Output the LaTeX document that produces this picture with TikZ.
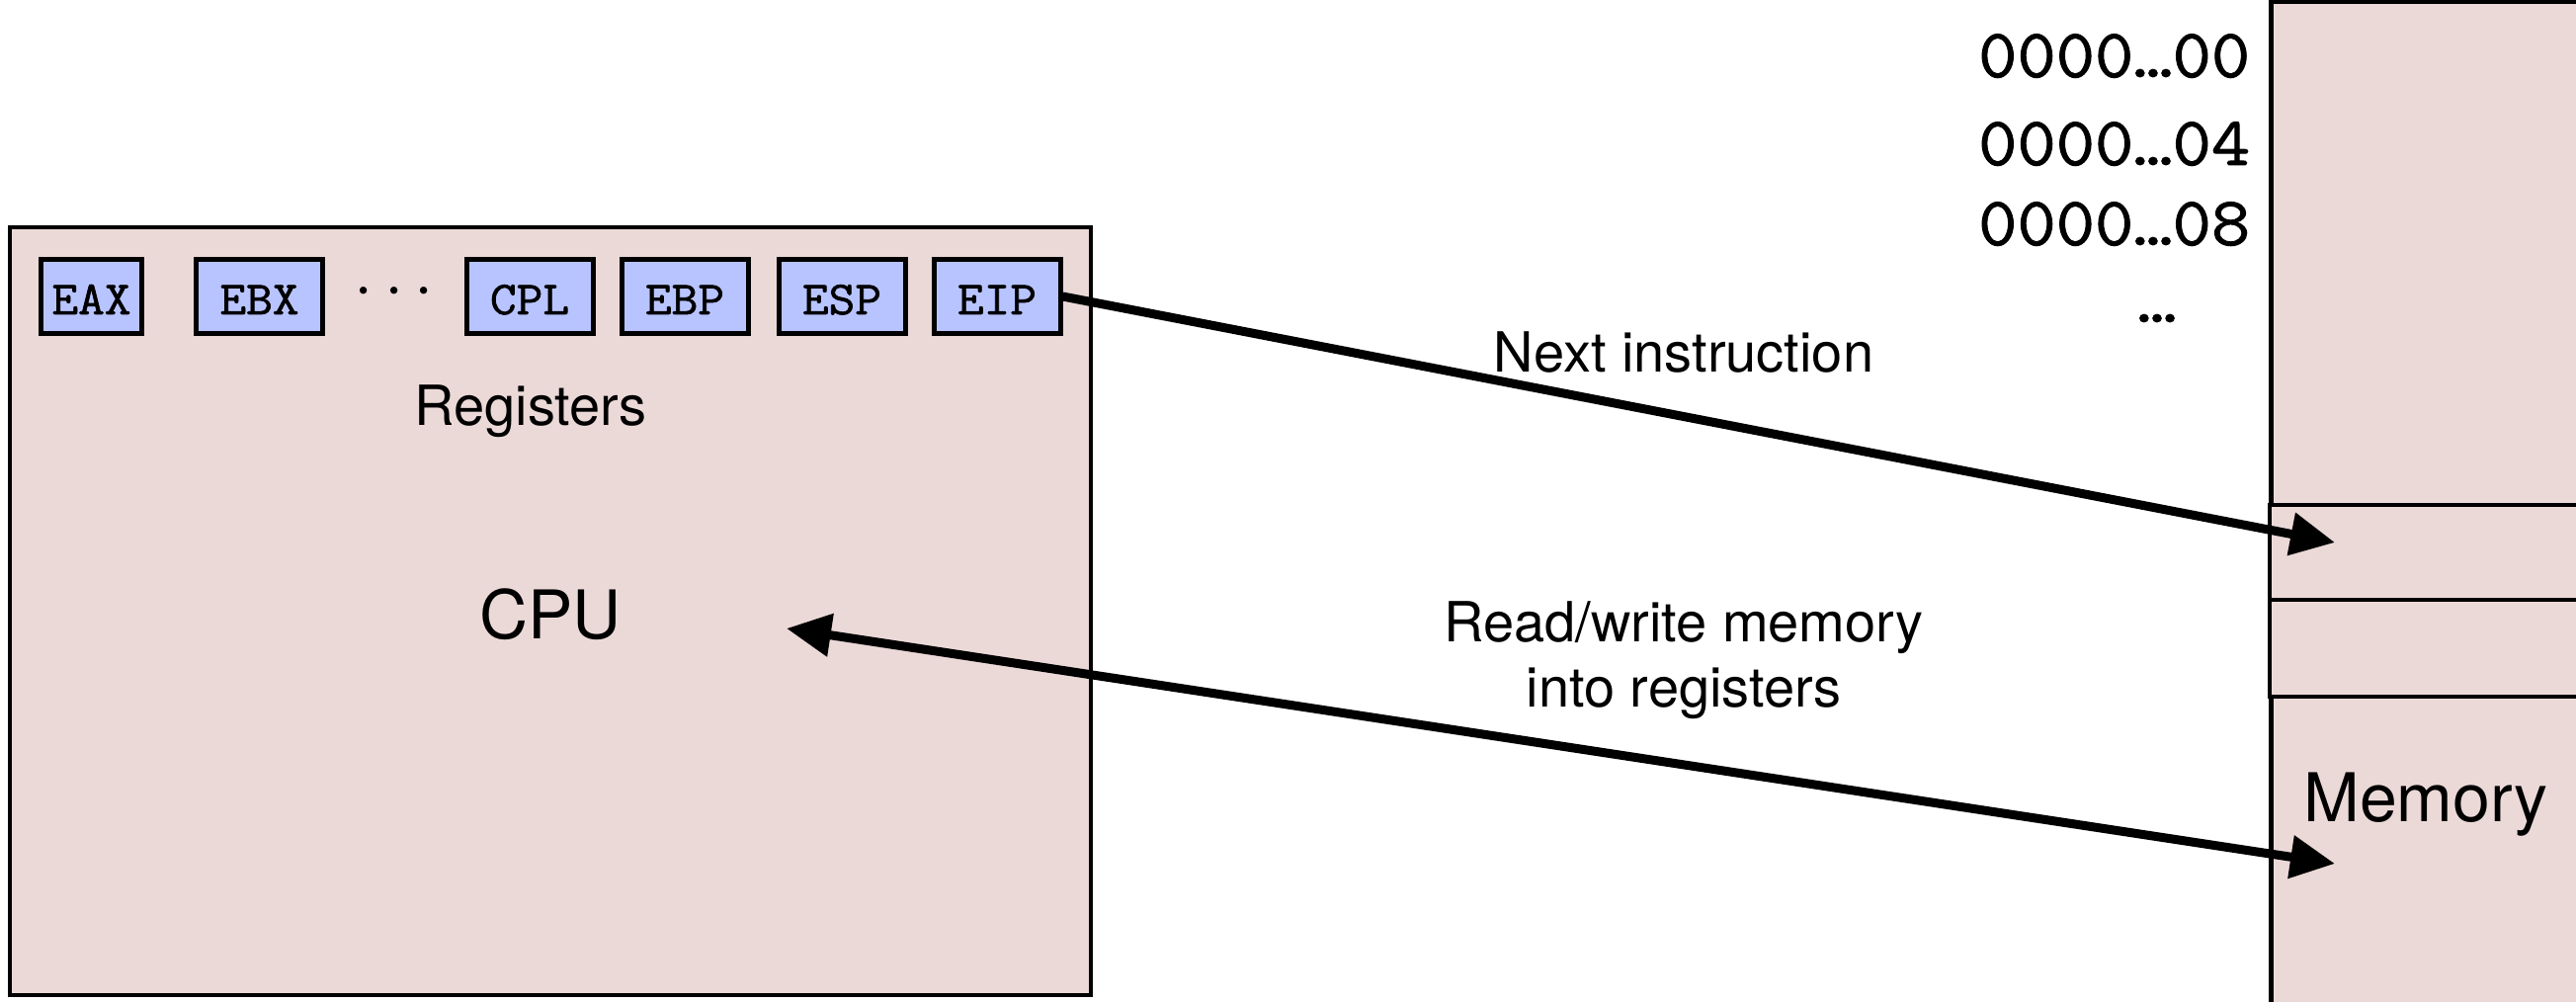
\documentclass[tikz,border=0pt]{standalone}
\usepackage{fontspec}
\setmainfont{TeX Gyre Heros}
\newfontfamily\monofont{Latin Modern Mono}[FakeStretch=1.08, FakeBold=1.4]
\newfontfamily\addrfont{Latin Modern Mono}[FakeStretch=1.09, FakeBold=1.3]
\usetikzlibrary{arrows.meta}

\definecolor{boxpink}{RGB}{235,217,216}
\definecolor{regblue}{RGB}{184,196,255}

\tikzset{
  cpubox/.style={draw=black, line width=1.1pt, fill=boxpink, inner sep=0pt,
    minimum width=273.5pt, minimum height=194.25pt},
  membox/.style={draw=black, line width=1.25pt, fill=boxpink, inner sep=0pt},
  cellbox/.style={draw=black, line width=1.1pt, fill=boxpink, inner sep=0pt,
    minimum width=100.75pt},
  regbox/.style={draw=black, line width=1.25pt, fill=regblue, inner sep=0pt,
    minimum width=32pt, minimum height=18.75pt,
    text height=0pt, text depth=0pt},
  regtext/.style={font=\monofont\fontsize{12}{13}\selectfont, anchor=base},
  addr/.style={font=\addrfont\fontsize{17.5}{18}\selectfont, anchor=base east, inner sep=0pt},
  label/.style={font=\fontsize{14}{15}\selectfont, anchor=base, inner sep=0pt},
  biglabel/.style={font=\fontsize{17}{18}\selectfont, anchor=base, inner sep=0pt},
  flow/.style={line width=2.25pt, -{Triangle[length=11.25pt,width=10.5pt]}},
  flowboth/.style={line width=2.25pt,
    {Triangle[length=11.25pt,width=10.5pt]}-{Triangle[length=11.25pt,width=10.5pt]}},
}

\begin{document}
\begin{tikzpicture}[x=0.25pt, y=-0.25pt]
  \clip (0,0) rectangle (2607,1014);
  \fill[white] (0,0) rectangle (2607,1014);

  % CPU with its register file
  \node[cpubox] (cpu) at (557,618.5) {};
  \node[regbox, minimum width=25.5pt] (eax) at (92.5,300) {};
  \node[regbox] (ebx) at (262.5,300) {};
  \node[regbox] (cpl) at (536,300) {};
  \node[regbox] (ebp) at (693,300) {};
  \node[regbox] (esp) at (852,300) {};
  \node[regbox] (eip) at (1009,300) {};
  \foreach \r/\t in {eax/EAX, ebx/EBX, cpl/CPL, ebp/EBP, esp/ESP, eip/EIP}
    \node[regtext] (\r-name) at ([yshift=-4.5pt]\r.center) {\t};
  \node[font=\fontsize{16}{17}\selectfont, inner sep=0pt] (regdots) at (399,296) {$\cdots$};
  \node[label] (reglabel) at (537,431) {Registers};
  \node[biglabel] (cpulabel) at (557,647) {CPU};

  % Memory column and two of its cells
  \node[membox, minimum width=100.5pt, minimum height=274.5pt] (mem) at (2499,551) {};
  \node[cellbox, minimum height=24pt] (cell1) at (2498.5,559) {};
  \node[cellbox, minimum height=24.5pt] (cell2) at (2498.5,656) {};
  \node[biglabel] (memlabel) at (2455,832) {Memory};

  % Addresses
  \node[addr] (a0) at (2278,78) {0000…00};
  \node[addr] (a4) at (2278,167) {0000…04};
  \node[addr] (a8) at (2278,248) {0000…08};
  \node[font=\addrfont\fontsize{17.5}{18}\selectfont, anchor=base, inner sep=0pt] (amore) at (2183,326) {…};

  % Connectors
  \coordinate (fetchtip) at (2363,549);
  \coordinate (cpuend) at (796,636);
  \coordinate (memend) at (2363,874);
  \draw[flow] (eip.east) -- (fetchtip);
  \draw[flowboth] (cpuend) -- (memend);

  \node[label] (fetchlabel) at (1704,377) {Next instruction};
  \node[label] (rwlabel1) at (1704,650) {Read/write memory};
  \node[label] (rwlabel2) at (1704,716) {into registers};
\end{tikzpicture}
\end{document}
